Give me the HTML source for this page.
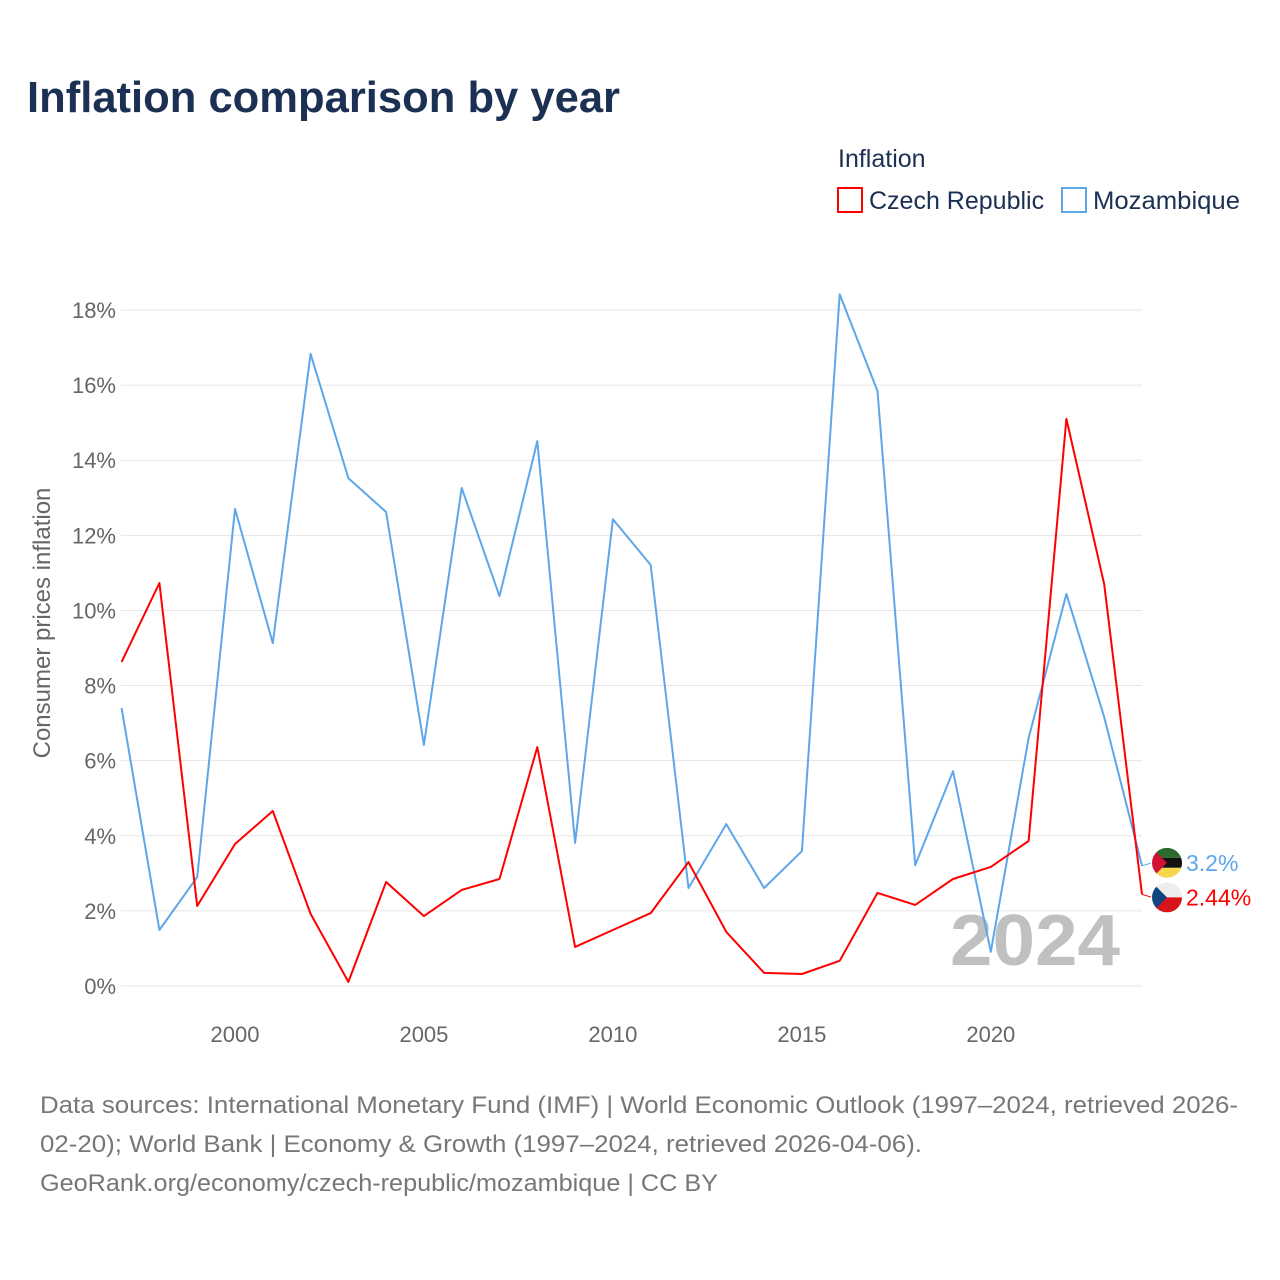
<!DOCTYPE html>
<html><head><meta charset="utf-8">
<style>
body{margin:0;background:#fff;font-family:"Liberation Sans",sans-serif;}
#wrap{position:relative;width:1280px;height:1280px;overflow:hidden;}
</style></head>
<body>
<div id="wrap">
<svg id="chart" width="1280" height="1280" style="font-family:'Liberation Sans',sans-serif">
  <text x="27" y="112" font-size="44" font-weight="bold" fill="#1b3052" textLength="593" lengthAdjust="spacingAndGlyphs">Inflation comparison by year</text>
  <text x="838" y="167" font-size="25" fill="#1b3052">Inflation</text>
  <g>
    <rect x="838" y="188" width="24" height="24" fill="none" stroke="#ff0000" stroke-width="2"/>
    <text x="869" y="209" font-size="25" fill="#1b3052">Czech Republic</text>
  </g>
  <g>
    <rect x="1062" y="188" width="24" height="24" fill="none" stroke="#5ea6ea" stroke-width="2"/>
    <text x="1093" y="209" font-size="25" fill="#1b3052" textLength="147" lengthAdjust="spacingAndGlyphs">Mozambique</text>
  </g>
  <g id="grid"></g>
  <g id="yticks"></g>
  <g id="xticks"></g>
  <text transform="translate(50,623) rotate(-90)" text-anchor="middle" font-size="24" fill="#666">Consumer prices inflation</text>
  <text x="950" y="965" font-size="72" font-weight="bold" fill="#c0c0c0" textLength="170" lengthAdjust="spacingAndGlyphs">2024</text>
  <g id="series"></g>
  <g id="endlabels"></g>
  <text x="40" y="1113" font-size="24" fill="#777" textLength="1198" lengthAdjust="spacingAndGlyphs">Data sources: International Monetary Fund (IMF) | World Economic Outlook (1997–2024, retrieved 2026-</text>
  <text x="40" y="1152" font-size="24" fill="#777" textLength="882" lengthAdjust="spacingAndGlyphs">02-20); World Bank | Economy &amp; Growth (1997–2024, retrieved 2026-04-06).</text>
  <text x="40" y="1191" font-size="24" fill="#777" textLength="678" lengthAdjust="spacingAndGlyphs">GeoRank.org/economy/czech-republic/mozambique | CC BY</text>
</svg>
</div>
<script>
const years = [1997,1998,1999,2000,2001,2002,2003,2004,2005,2006,2007,2008,2009,2010,2011,2012,2013,2014,2015,2016,2017,2018,2019,2020,2021,2022,2023,2024];
const czech = [8.63,10.73,2.13,3.78,4.66,1.92,0.11,2.77,1.86,2.56,2.85,6.36,1.04,1.49,1.94,3.30,1.44,0.35,0.32,0.67,2.48,2.16,2.85,3.17,3.86,15.1,10.7,2.44];
const mozambique = [7.40,1.49,2.90,12.70,9.13,16.83,13.52,12.62,6.42,13.26,10.38,14.51,3.81,12.43,11.21,2.61,4.31,2.61,3.59,18.42,15.84,3.22,5.72,0.91,6.60,10.44,7.16,3.2];
const yTicks = [0,2,4,6,8,10,12,14,16,18];
const xTicks = [2000,2005,2010,2015,2020];

const NS="http://www.w3.org/2000/svg";
const x = yr => 121.6 + (yr-1997)*(1142-121.6)/27;
const y = v => 986 - v*(986-310)/18;
function mk(tag, attrs, parent){const e=document.createElementNS(NS,tag);for(const k in attrs)e.setAttribute(k,attrs[k]);parent.appendChild(e);return e;}

const grid=document.getElementById('grid'), yt=document.getElementById('yticks'), xt=document.getElementById('xticks');
yTicks.forEach(t=>{
  const l=mk('line',{x1:121,x2:1142,y1:y(t),y2:y(t),stroke:'#e6e6e6','stroke-width':1},grid);
  
  
  const tx=mk('text',{x:116,y:y(t)+8,'text-anchor':'end','font-size':22,fill:'#666'},yt);
  tx.textContent=t+'%';
  
  
});
xTicks.forEach(t=>{
  const tx=mk('text',{x:x(t),y:1042,'text-anchor':'middle','font-size':22,fill:'#666'},xt);
  tx.textContent=t;
  
  
});
const ser=document.getElementById('series');
function line(vals,color,name){
  const d=vals.map((v,i)=>(i?'L':'M')+x(years[i]).toFixed(1)+','+y(v).toFixed(1)).join(' ');
  const p=mk('path',{d:d,fill:'none',stroke:color,'stroke-width':2,'stroke-linejoin':'round'},ser);
  
  
}
line(mozambique,'#5ea6ea','line-mozambique');
line(czech,'#ff0000','line-czech');

const el=document.getElementById('endlabels');
const lx=x(2024);
const mv=mozambique[mozambique.length-1], cv=czech[czech.length-1];
const my=y(mv)-3, cy=y(cv)+3;
mk('path',{d:`M${lx},${y(mv)} L${lx+10},${my}`,stroke:'#5ea6ea',fill:'none'},el);
mk('path',{d:`M${lx},${y(cv)} L${lx+10},${cy}`,stroke:'#ff0000',fill:'none'},el);
const fm=mk('g',{},el);


const mcx=1167, mcy=my;
mk('rect',{x:mcx-15,y:mcy-15,width:30,height:10,fill:'#2d6a2d'},fm);
mk('rect',{x:mcx-15,y:mcy-5,width:30,height:10,fill:'#111'},fm);
mk('rect',{x:mcx-15,y:mcy+5,width:30,height:10,fill:'#f7d74a'},fm);
mk('path',{d:`M${mcx-15},${mcy-15} L${mcx},${mcy} L${mcx-15},${mcy+15}Z`,fill:'#d21034'},fm);
const fc=mk('g',{},el);


const ccx=1167, ccy=cy;
mk('rect',{x:ccx-15,y:ccy-15,width:30,height:15,fill:'#eee'},fc);
mk('rect',{x:ccx-15,y:ccy,width:30,height:15,fill:'#d7141a'},fc);
mk('path',{d:`M${ccx-15},${ccy-15} L${ccx},${ccy} L${ccx-15},${ccy+15}Z`,fill:'#11457e'},fc);
[[mcx,mcy],[ccx,ccy]].forEach(([a,b])=>{
  mk('path',{d:`M${a-16},${b-16} H${a+16} V${b+16} H${a-16}Z M${a-15},${b} A15,15 0 1,0 ${a+15},${b} A15,15 0 1,0 ${a-15},${b}Z`,fill:'#fff','fill-rule':'evenodd'},el);
});
const t1=mk('text',{x:1186,y:my+8,'font-size':23,fill:'#5ea6ea'},el);
t1.textContent=mv+'%';


const t2=mk('text',{x:1186,y:cy+8,'font-size':23,fill:'#ff0000'},el);
t2.textContent=cv+'%';


</script>
</body></html>
